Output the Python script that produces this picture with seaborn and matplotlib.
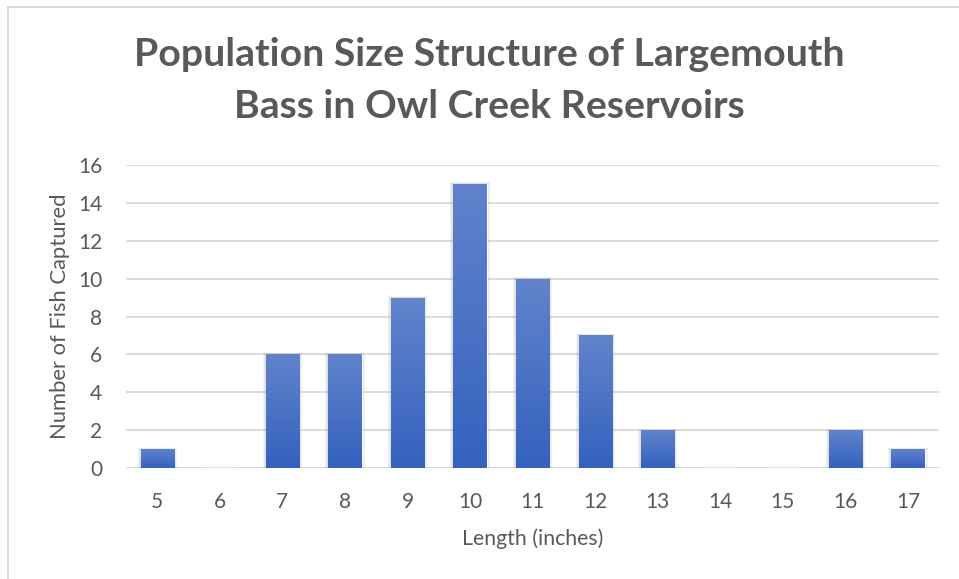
import numpy as np
import pandas as pd
import matplotlib
matplotlib.use("Agg")
import matplotlib.pyplot as plt
import seaborn as sns
from matplotlib.colors import LinearSegmentedColormap
from matplotlib.patches import Rectangle

# data
lengths = ["5", "6", "7", "8", "9", "10", "11", "12", "13", "14", "15", "16", "17"]
fish_counts = [1, 0, 6, 6, 9, 15, 10, 7, 2, 0, 0, 2, 1]
y_ticks = [0, 2, 4, 6, 8, 10, 12, 14, 16]
title_lines = ["Population Size Structure of Largemouth", "Bass in Owl Creek Reservoirs"]

df = pd.DataFrame({"length": lengths, "count": fish_counts})

sns.set_theme(style="white")
plt.rcParams["font.family"] = ["Lato", "DejaVu Sans"]

grey = "#595959"

fig = plt.figure(figsize=(9.59, 5.79), dpi=100)
ax = fig.add_axes([0.1314, 0.1917, 0.848, 0.5233])

sns.barplot(data=df, x="length", y="count", color="#4472c4",
            width=0.53, ax=ax, zorder=3, saturation=1)

ax.set_xlim(-0.5, len(lengths) - 0.5)
ax.set_ylim(0, 16)

# pixel -> data sizes for the soft shadow
px_x = (len(lengths)) / (0.848 * 959)
px_y = 16 / (0.5233 * 579)

# excel-like vertical gradient on each bar + soft shadow
cmap = LinearSegmentedColormap.from_list("bar", ["#3462be", "#6283cc"])
grad = np.linspace(0, 1, 100).reshape(-1, 1)
for p in ax.patches:
    x0, y0 = p.get_x(), p.get_y()
    w, h = p.get_width(), p.get_height()
    if h <= 0:
        continue
    for k in range(1, 4):
        ax.add_patch(Rectangle((x0 - k * px_x, y0), w + 2 * k * px_x, h + k * px_y * 0.5,
                               facecolor="black", alpha=0.05, lw=0, zorder=2))
    im = ax.imshow(grad, cmap=cmap, aspect="auto", origin="lower",
                   extent=[x0, x0 + w, y0, y0 + h], zorder=4)
    im.set_clip_path(p)

ax.set_yticks(y_ticks)
ax.yaxis.grid(True, color="#d9d9d9", lw=1.3, zorder=0)
ax.xaxis.grid(False)
for s in ax.spines.values():
    s.set_visible(False)
ax.axhline(0, color="#d9d9d9", lw=1.3, zorder=1)
ax.tick_params(axis="both", length=0, labelsize=15, labelcolor=grey)
ax.tick_params(axis="y", pad=17)
ax.tick_params(axis="x", pad=17)

ax.set_xlabel("Length (inches)", fontsize=15.3, color=grey, labelpad=12)
ax.set_ylabel("Number of Fish Captured", fontsize=15.8, color=grey, labelpad=6)

fig.text(489 / 959, 1 - 55 / 579, title_lines[0], ha="center", va="center",
         fontsize=28.3, fontweight="bold", color=grey)
fig.text(489 / 959, 1 - 107 / 579, title_lines[1], ha="center", va="center",
         fontsize=28.3, fontweight="bold", color=grey)

# outer chart border (top and left visible)
fig.add_artist(Rectangle((8 / 959, -0.1), 1.2, 1 - 7 / 579 + 0.1,
                         transform=fig.transFigure, fill=False,
                         edgecolor="#d9d9d9", lw=1.3))

fig.savefig("out.png", dpi=100)
